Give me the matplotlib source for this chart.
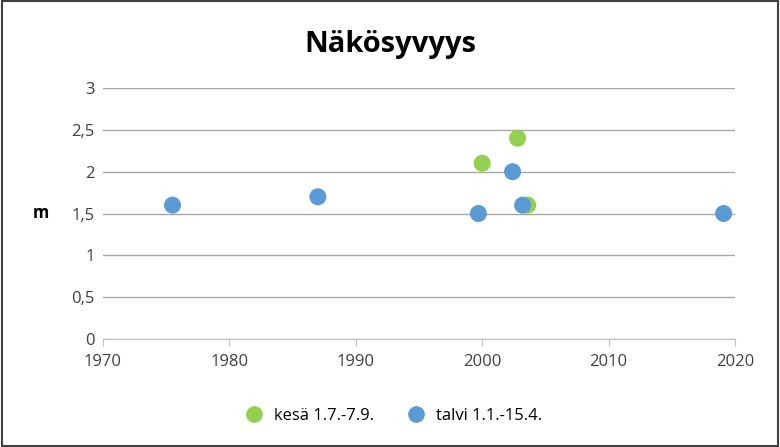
import matplotlib.pyplot as plt
from matplotlib.lines import Line2D

plt.rcParams['font.family'] = ['Open Sans', 'DejaVu Sans']

kesa_years = [2000.0, 2002.8, 2003.6]
kesa_depth = [2.1, 2.4, 1.6]
talvi_years = [1975.5, 1987.0, 1999.7, 2002.4, 2003.2, 2019.1]
talvi_depth = [1.6, 1.7, 1.5, 2.0, 1.6, 1.5]

green = '#92d050'
blue = '#5b9bd5'

fig = plt.figure(figsize=(7.8, 4.47), dpi=100)
fig.patches.append(plt.Rectangle((0.002, 0.003), 0.996, 0.994, transform=fig.transFigure,
                                 fill=False, edgecolor='#404040', linewidth=1.5))
ax = fig.add_axes([103 / 780, 1 - 339 / 447, 632 / 780, 251 / 447])

ax.scatter(kesa_years, kesa_depth, s=150, color=green, zorder=3, edgecolors='none')
ax.scatter(talvi_years, talvi_depth, s=150, color=blue, zorder=3, edgecolors='none')

ax.set_xlim(1970, 2020)
ax.set_ylim(0, 3)
ax.set_xticks(range(1970, 2021, 10))
ax.set_yticks([0, 0.5, 1, 1.5, 2, 2.5, 3])
ax.set_yticklabels(['0', '0,5', '1', '1,5', '2', '2,5', '3'])
ax.tick_params(labelsize=12, colors='#404040', length=0, pad=6)
ax.tick_params(axis='x', length=5, color='#bfbfbf', direction='out')
ax.grid(axis='y', color='#a6a6a6', linewidth=1)
for side in ['top', 'right', 'left']:
    ax.spines[side].set_visible(False)
ax.spines['bottom'].set_color('#bfbfbf')
ax.set_axisbelow(True)

ax.set_ylabel('m', rotation=0, fontsize=12, fontweight='bold', labelpad=22, va='center')
fig.text(0.5, 0.9, 'Näkösyvyys', ha='center', va='center', fontsize=21, fontweight='bold')

handles = [Line2D([], [], marker='o', linestyle='none', color=green, markersize=11),
           Line2D([], [], marker='o', linestyle='none', color=blue, markersize=11)]
fig.legend(handles, ['kesä 1.7.-7.9.', 'talvi 1.1.-15.4.'], loc='center', bbox_to_anchor=(0.5, 0.07),
           ncol=2, frameon=False, fontsize=12, handletextpad=0.2, columnspacing=1.5)

fig.savefig('out.png', dpi=100)
